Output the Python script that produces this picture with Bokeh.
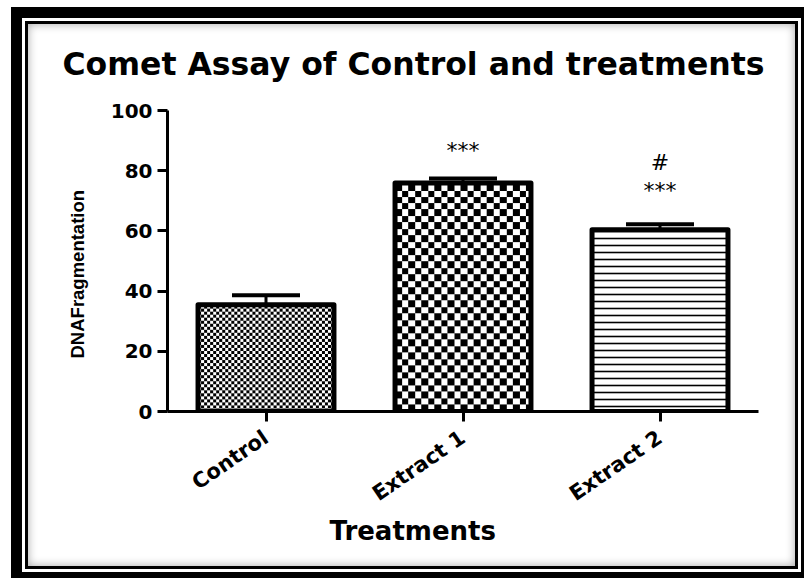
import numpy as np
from bokeh.plotting import figure
from bokeh.models import (ColumnDataSource, FactorRange, Range1d, FixedTicker,
                          Whisker, TeeHead, Title, Label)
from bokeh.core.properties import value, field
from bokeh.embed import file_html
from bokeh.resources import INLINE

# ---- data ----
categories = ["Control", "Extract 1", "Extract 2"]
means = [35.5, 75.9, 60.4]
errors = [3.1, 1.5, 1.8]
y_ticks = [0, 20, 40, 60, 80, 100]
annot_cat = ["Extract 1", "Extract 2", "Extract 2"]
annot_y = [86.7, 82.7, 73.5]
annot_text = ["***", "#", "***"]

title_text = "Comet Assay of Control and treatments"
x_label = "Treatments"
y_label = "DNAFragmentation"

# ---- styles ----
BOLD_FONT = "DejaVu Sans"
BAR_WIDTH = 0.69
PX_PER_CAT = 197.0      # screen pixels per category (frame 591 px / 3)
PX_PER_UNIT = 3.015     # screen pixels per y unit (frame 301.5 px / 100)
# fill pattern per bar: ("checker", cell px) or ("lines", spacing px)
patterns = [("checker", 3.0), ("checker", 6.5), ("lines", 7)]

p = figure(x_range=FactorRange(*categories), y_range=Range1d(0, 100),
           width=767, height=542, output_backend="svg", toolbar_location=None,
           min_border_left=139, min_border_right=37, min_border_top=86, min_border_bottom=155)

p.styles = {"position": "relative", "left": "28px", "top": "24px",
            "box-shadow": "0 0 0 3px #000, 0 0 0 6px #fff, 0 0 0 17px #000, inset 0 0 10px rgba(0,0,0,0.35)"}

p.background_fill_color = None
p.border_fill_color = None
p.outline_line_color = None
p.xgrid.visible = False
p.ygrid.visible = False

src = ColumnDataSource(dict(
    cat=categories,
    mean=means,
    upper=[m + e for m, e in zip(means, errors)],
    hatch=["blank" if kind == "checker" else "horizontal_line" for kind, _ in patterns],
    hscale=[s for _, s in patterns],
))

# white bar body (+ horizontal-line hatch where needed)
p.vbar(x="cat", top="mean", width=BAR_WIDTH, source=src,
       fill_color="white", line_color=None,
       hatch_pattern=field("hatch"), hatch_scale=field("hscale"), hatch_weight=1.6,
       hatch_color="black", hatch_alpha=1.0)

# checkerboard textures, rendered as images covering each checker bar
for i, (cat, m) in enumerate(zip(categories, means)):
    kind, cell = patterns[i]
    if kind != "checker":
        continue
    w_px = int(round(BAR_WIDTH * PX_PER_CAT))
    h_px = int(round(m * PX_PER_UNIT))
    rr, cc = np.mgrid[0:h_px, 0:w_px]
    mask = ((np.floor(rr / cell) + np.floor(cc / cell)) % 2) == 0
    rgba = np.empty((h_px, w_px, 4), dtype=np.uint8)
    rgba[...] = 255
    rgba[mask, 0:3] = 0
    img = rgba.view(dtype=np.uint32).reshape((h_px, w_px))
    p.image_rgba(image=[img], x=i + 0.5 - BAR_WIDTH / 2, y=0, dw=BAR_WIDTH, dh=m)

# bar outlines
p.vbar(x="cat", top="mean", width=BAR_WIDTH, source=src,
       fill_color=None, line_color="black", line_width=5, line_join="round")

w = Whisker(base="cat", lower="mean", upper="upper", source=src, dimension="height",
            line_color="black", line_width=3, level="annotation",
            upper_head=TeeHead(size=68, line_width=4, line_color="black"), lower_head=None)
p.add_layout(w)

ann = ColumnDataSource(dict(x=annot_cat, y=annot_y, t=annot_text))
p.text(x="x", y="y", text="t", source=ann, text_font=value("DejaVu Sans"),
       text_font_size="22px", text_align="center", text_baseline="alphabetic", text_color="black")

for ax in (p.xaxis[0], p.yaxis[0]):
    ax.axis_line_width = 3
    ax.axis_line_color = "black"
    ax.major_tick_line_width = 3
    ax.major_tick_line_color = "black"
    ax.major_tick_in = 0
    ax.major_tick_out = 10
    ax.minor_tick_line_color = None
    ax.major_label_text_font = BOLD_FONT
    ax.major_label_text_font_style = "bold"
    ax.major_label_text_color = "black"
    ax.major_label_standoff = 5

p.yaxis.ticker = FixedTicker(ticks=y_ticks)
p.yaxis.major_label_text_font_size = "20px"
p.xaxis.major_label_text_font_size = "21px"
p.xaxis.major_label_orientation = 0.6
p.xaxis.major_label_standoff = 14

# chart title, placed in the panel above the frame (screen offsets from that panel)
p.add_layout(Label(x=-105, y=47, x_units="screen", y_units="screen", text=title_text,
                   text_font=BOLD_FONT, text_font_style="bold", text_font_size="31.5px",
                   text_color="black", text_align="left", text_baseline="alphabetic"), "above")

p.add_layout(Title(text=x_label, align="left", offset=162, standoff=-10, text_font=BOLD_FONT,
                   text_font_style="bold", text_font_size="26px", text_color="black"), "below")
p.add_layout(Title(text=y_label, align="left", offset=53, standoff=40, text_font="Liberation Sans",
                   text_font_style="bold", text_font_size="18.5px", text_color="black"), "left")

open("out.html", "w").write(file_html(p, INLINE))
